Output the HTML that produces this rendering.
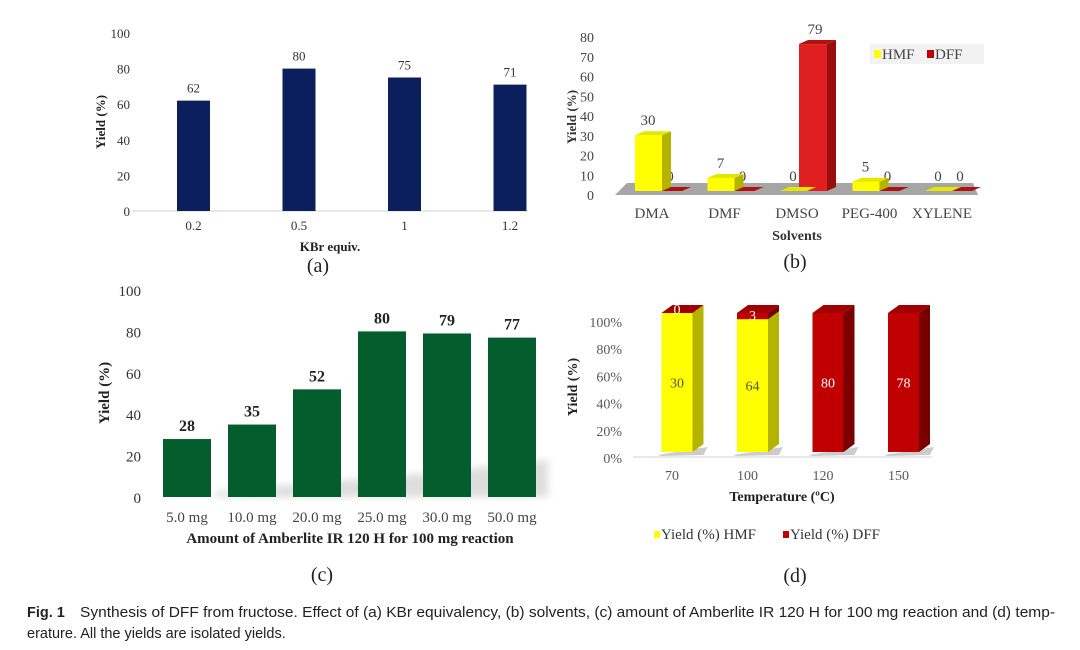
<!DOCTYPE html>
<html><head><meta charset="utf-8"><style>
html,body{margin:0;padding:0;background:#fff;}
svg{display:block;}
.serif{font-family:"Liberation Serif",serif;}
</style></head><body>
<svg id="fig" width="1080" height="650" viewBox="0 0 1080 650" xmlns="http://www.w3.org/2000/svg">
<defs><filter id="blur"><feGaussianBlur stdDeviation="4"/></filter></defs>
<g id="pa" class="serif"></g>
<g id="pb" class="serif"></g>
<g id="pc" class="serif"></g>
<g id="pd" class="serif"></g>
<g font-family="Liberation Sans, sans-serif" font-size="14.5" fill="#222">
<text x="27" y="617" font-weight="bold">Fig. 1</text>
<text x="80" y="617" textLength="975" lengthAdjust="spacingAndGlyphs">Synthesis of DFF from fructose. Effect of (a) KBr equivalency, (b) solvents, (c) amount of Amberlite IR 120 H for 100 mg reaction and (d) temp-</text>
<text x="27" y="638">erature. All the yields are isolated yields.</text>
</g>
</svg>
<script>
const NS='http://www.w3.org/2000/svg';
// Panel a data
const aCats=['0.2','0.5','1','1.2'];
const aVals=[62,80,75,71];
const aTicks=[0,20,40,60,80,100];
// Panel b data
const bCats=['DMA','DMF','DMSO','PEG-400','XYLENE'];
const bHMF=[30,7,0,5,0];
const bDFF=[0,0,79,0,0];
const bTicks=[0,10,20,30,40,50,60,70,80];
// Panel c data
const cCats=['5.0 mg','10.0 mg','20.0 mg','25.0 mg','30.0 mg','50.0 mg'];
const cVals=[28,35,52,80,79,77];
const cTicks=[0,20,40,60,80,100];
// Panel d data
const dCats=['70','100','120','150'];
const dHMF=[30,64,0,0];
const dDFF=[0,3,80,78];
const dTicks=[0,20,40,60,80,100];

function el(parent,tag,attrs,text){const e=document.createElementNS(NS,tag);for(const k in attrs)e.setAttribute(k,attrs[k]);if(text!==undefined)e.textContent=text;parent.appendChild(e);return e;}
function pts(a){return a.map(p=>p.join(',')).join(' ');}

// ---------- Panel A ----------
(function(){
const g=document.getElementById('pa');
const x=i=>193.5+i*105.5, y=v=>211-v*1.78;
let ax=el(g,'line',{x1:132,y1:211,x2:528,y2:211,stroke:'#d9d9d9','stroke-width':1.2});

aTicks.forEach(t=>{const e=el(g,'text',{x:130,y:y(t)+5,'text-anchor':'end','font-size':13,fill:'#333'},t);
});
aCats.forEach((c,i)=>{
const v=aVals[i];
const r=el(g,'rect',{x:x(i)-16.5,y:y(v),width:33,height:211-y(v),fill:'#0b1f5c'});

const l=el(g,'text',{x:x(i),y:y(v)-8,'text-anchor':'middle','font-size':13,fill:'#333'},v);

const t=el(g,'text',{x:x(i),y:230,'text-anchor':'middle','font-size':13,fill:'#333'},c);

});
let yt=el(g,'text',{x:0,y:0,transform:'translate(105,122) rotate(-90)','text-anchor':'middle','font-size':13,'font-weight':'bold',fill:'#222'},'Yield (%)');

let xt=el(g,'text',{x:330,y:251,'text-anchor':'middle','font-size':13,'font-weight':'bold',fill:'#222'},'KBr equiv.');

let pl=el(g,'text',{x:318,y:272,'text-anchor':'middle','font-size':20,fill:'#222'},'(a)');

})();

// ---------- Panel B ----------
(function(){
const g=document.getElementById('pb');
const cx=i=>652+i*72.5, base=191, y=v=>base-v*1.86, ty=v=>195-v*1.975;
const dx=9,dy=4;
let fl=el(g,'polygon',{points:pts([[627,183],[973,183],[978,195],[615,195]]),fill:'#a6a6a6'});

bTicks.forEach(t=>{const e=el(g,'text',{x:594,y:ty(t)+5,'text-anchor':'end','font-size':14,fill:'#444'},t);
});
function bar3d(x0,x1,v,front,side,top,name){
 const yt=y(v);
 const gg=el(g,'g',{});
 
 if(v>0){
  el(gg,'rect',{x:x0,y:yt,width:x1-x0,height:base-yt,fill:front});
  el(gg,'polygon',{points:pts([[x1,yt],[x1+dx,yt-dy],[x1+dx,base-dy],[x1,base]]),fill:side});
 }
 el(gg,'polygon',{points:pts([[x0,yt],[x0+dx,yt-dy],[x1+dx,yt-dy],[x1,yt]]),fill:top});
 return yt;
}
bCats.forEach((c,i)=>{
 const x=cx(i);
 const vd=bDFF[i];
 const ydf=bar3d(x+2,x+30,vd,'#e02020','#9a0d0d','#b01010','bar-dff-'+c);
 const l2=el(g,'text',{x:x+18,y:ydf-10,'text-anchor':'middle','font-size':15,fill:'#444'},vd);
 
 const vh=bHMF[i];
 const yh=bar3d(x-17,x+10,vh,'#ffff00','#b3b300','#e6e600','bar-hmf-'+c);
 const l1=el(g,'text',{x:x-4,y:yh-10,'text-anchor':'middle','font-size':15,fill:'#444'},vh);
 
 const t=el(g,'text',{x:x,y:218,'text-anchor':'middle','font-size':15,fill:'#444'},c);
 
});
const lg=el(g,'g',{});

el(lg,'rect',{x:870,y:44,width:114,height:20,fill:'#f2f2f2'});
el(lg,'rect',{x:874,y:50,width:7,height:8,fill:'#ffff00'});
el(lg,'text',{x:882,y:59,'font-size':15,fill:'#444'},'HMF');
el(lg,'rect',{x:927,y:50,width:7,height:8,fill:'#c00000'});
el(lg,'text',{x:935,y:59,'font-size':15,fill:'#444'},'DFF');
let yt=el(g,'text',{x:0,y:0,transform:'translate(576,117) rotate(-90)','text-anchor':'middle','font-size':13,'font-weight':'bold',fill:'#333'},'Yield (%)');

let xt=el(g,'text',{x:797,y:240,'text-anchor':'middle','font-size':14,'font-weight':'bold',fill:'#333'},'Solvents');

let pl=el(g,'text',{x:795,y:268,'text-anchor':'middle','font-size':20,fill:'#222'},'(b)');

})();

// ---------- Panel C ----------
(function(){
const g=document.getElementById('pc');
const x=i=>187+i*65, y=v=>497-v*2.07;
let sh=el(g,'polygon',{points:pts([[215,492],[300,484],[420,474],[548,460],[548,497],[215,497]]),fill:'#cfcfcf',filter:'url(#blur)',opacity:0.7});

cTicks.forEach(t=>{const e=el(g,'text',{x:141,y:y(t)+6,'text-anchor':'end','font-size':15,fill:'#333'},t);
});
cCats.forEach((c,i)=>{
 const v=cVals[i];
 const r=el(g,'rect',{x:x(i)-24,y:y(v),width:48,height:497-y(v),fill:'#045d2c'});
 
 const l=el(g,'text',{x:x(i),y:y(v)-8,'text-anchor':'middle','font-size':16,'font-weight':'bold',fill:'#222'},v);
 
 const t=el(g,'text',{x:x(i),y:522,'text-anchor':'middle','font-size':15,fill:'#444'},c);
 
});
let yt=el(g,'text',{x:0,y:0,transform:'translate(109,393) rotate(-90)','text-anchor':'middle','font-size':15,'font-weight':'bold',fill:'#222'},'Yield (%)');

let xt=el(g,'text',{x:350,y:543,'text-anchor':'middle','font-size':15,'font-weight':'bold',fill:'#222'},'Amount of Amberlite IR 120 H for 100 mg reaction');

let pl=el(g,'text',{x:322,y:581,'text-anchor':'middle','font-size':20,fill:'#222'},'(c)');

})();

// ---------- Panel D ----------
(function(){
const g=document.getElementById('pd');
const cx=i=>677+i*75.5, base=452, H=139, ty=v=>458-v*1.36;
const w=31, dx=11, dy=8;
let ax=el(g,'line',{x1:633,y1:457,x2:932,y2:457,stroke:'#d9d9d9','stroke-width':1.2});

dTicks.forEach(t=>{const e=el(g,'text',{x:622,y:ty(t)+5,'text-anchor':'end','font-size':14,fill:'#595959'},t+'%');
});
dCats.forEach((c,i)=>{
 const h=dHMF[i], d=dDFF[i], tot=h+d;
 const x0=cx(i)-w/2, x1=x0+w;
 const yMid=base-H*h/tot, yTop=base-H;
 el(g,'polygon',{points:pts([[x0-4,base+3],[x1+dx+4,base-dy+3],[x1+dx,base+3],[x0,base+4]]),fill:'#999',opacity:0.5});
 const gh=el(g,'g',{});
 
 if(h>0){
  el(gh,'rect',{x:x0,y:yMid,width:w,height:base-yMid,fill:'#ffff00'});
  el(gh,'polygon',{points:pts([[x1,yMid],[x1+dx,yMid-dy],[x1+dx,base-dy],[x1,base]]),fill:'#b3b300'});
 }
 const gd=el(g,'g',{});
 
 if(d>0){
  el(gd,'rect',{x:x0,y:yTop,width:w,height:yMid-yTop,fill:'#c00000'});
  el(gd,'polygon',{points:pts([[x1,yTop],[x1+dx,yTop-dy],[x1+dx,yMid-dy],[x1,yMid]]),fill:'#7a0000'});
 }
 el(gd,'polygon',{points:pts([[x0,yTop],[x0+dx,yTop-dy],[x1+dx,yTop-dy],[x1,yTop]]),fill:'#a00000'});
 if(h>0){
  const l=el(g,'text',{x:cx(i),y:(yMid+base)/2+5,'text-anchor':'middle','font-size':14,fill:'#555'},h);
  
 }
 const dl=d>0&&h===0?(yTop+base)/2+5:(d>0?(yTop+yMid)/2+4:yTop+1);
 const l2=el(g,'text',{x:cx(i),y:dl,'text-anchor':'middle','font-size':14,fill:'#fff'},d);
 
 const t=el(g,'text',{x:cx(i)-5,y:480,'text-anchor':'middle','font-size':14,fill:'#595959'},c);
 
});
let yt=el(g,'text',{x:0,y:0,transform:'translate(577,387) rotate(-90)','text-anchor':'middle','font-size':14,'font-weight':'bold',fill:'#222'},'Yield (%)');

let xt=el(g,'text',{x:782,y:501,'text-anchor':'middle','font-size':14,'font-weight':'bold',fill:'#222'},'Temperature (ºC)');

const lg=el(g,'g',{});

el(lg,'rect',{x:654,y:531,width:6,height:7,fill:'#ffff00'});
el(lg,'text',{x:661,y:539,'font-size':15,fill:'#333'},'Yield (%) HMF');
el(lg,'rect',{x:783,y:531,width:6,height:7,fill:'#c00000'});
el(lg,'text',{x:790,y:539,'font-size':15,fill:'#333'},'Yield (%) DFF');
let pl=el(g,'text',{x:795,y:582,'text-anchor':'middle','font-size':20,fill:'#222'},'(d)');

})();
</script>
</body></html>
